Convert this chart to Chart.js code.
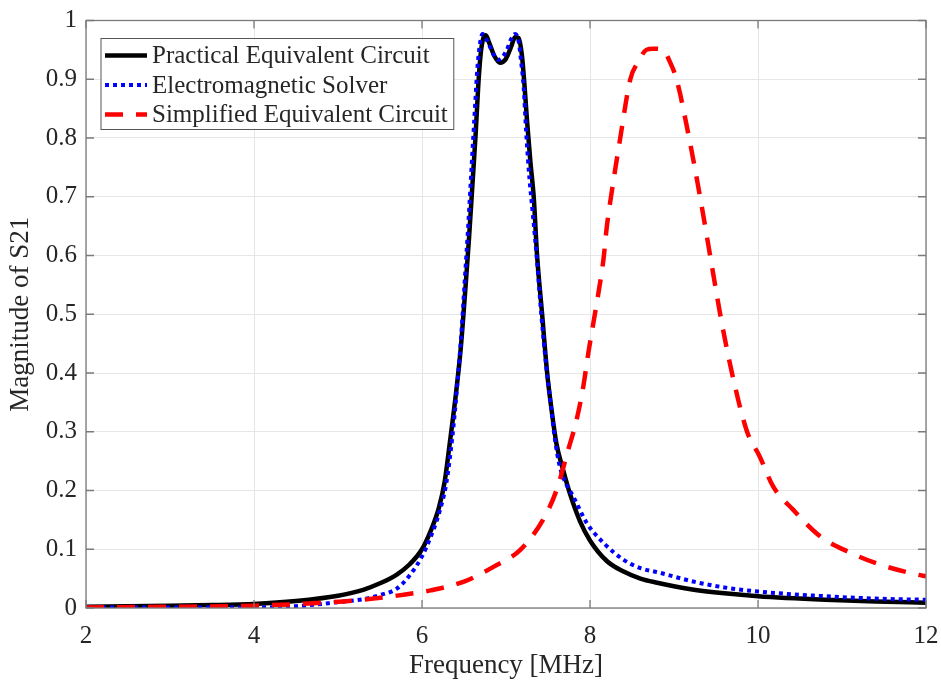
<!DOCTYPE html>
<html>
<head>
<meta charset="utf-8">
<script src="https://cdn.jsdelivr.net/npm/chart.js@4.4.0/dist/chart.umd.min.js"></script>
<style>
  html, body { margin: 0; padding: 0; background: #fff; }
</style>
</head>
<body>
<canvas id="myChart" width="941" height="686"></canvas>
<script>
'use strict';

//********************* Data *************************/

let practicalFreq = [2.0, 2.5, 3.0, 3.5, 4.0, 4.5, 5.0, 5.3, 5.5, 5.7, 5.85, 6.0, 6.1, 6.2, 6.27, 6.33, 6.40, 6.46, 6.52, 6.56, 6.60, 6.64, 6.67, 6.70, 6.73, 6.76, 6.80, 6.86, 6.93, 7.00, 7.06, 7.11, 7.15, 7.19, 7.22, 7.25, 7.29, 7.33, 7.37, 7.43, 7.49, 7.54, 7.60, 7.68, 7.76, 7.88, 8.0, 8.2, 8.4, 8.6, 8.8, 9.2, 9.6, 10.0, 10.8, 11.4, 12.0];
let practicalS21 = [0.002, 0.003, 0.004, 0.005, 0.007, 0.012, 0.021, 0.031, 0.042, 0.057, 0.074, 0.100, 0.130, 0.170, 0.215, 0.28, 0.36, 0.44, 0.55, 0.63, 0.72, 0.81, 0.89, 0.945, 0.97, 0.975, 0.962, 0.940, 0.928, 0.935, 0.955, 0.972, 0.970, 0.940, 0.89, 0.83, 0.76, 0.70, 0.60, 0.50, 0.40, 0.34, 0.28, 0.235, 0.195, 0.148, 0.115, 0.080, 0.062, 0.050, 0.043, 0.032, 0.025, 0.020, 0.014, 0.011, 0.009];

let solverFreq = [2.0, 2.5, 3.0, 3.5, 4.0, 4.5, 5.0, 5.3, 5.5, 5.7, 5.85, 6.0, 6.1, 6.2, 6.29, 6.36, 6.42, 6.47, 6.51, 6.55, 6.59, 6.63, 6.66, 6.69, 6.72, 6.76, 6.81, 6.86, 6.91, 6.96, 7.01, 7.06, 7.11, 7.15, 7.18, 7.21, 7.24, 7.28, 7.32, 7.37, 7.42, 7.48, 7.53, 7.58, 7.64, 7.72, 7.80, 7.96, 8.16, 8.4, 8.6, 8.83, 9.23, 9.6, 10.0, 10.8, 11.4, 12.0];
let solverS21 = [0.001, 0.001, 0.001, 0.001, 0.001, 0.003, 0.010, 0.015, 0.022, 0.033, 0.055, 0.088, 0.12, 0.16, 0.213, 0.29, 0.38, 0.47, 0.56, 0.65, 0.75, 0.85, 0.92, 0.96, 0.977, 0.97, 0.955, 0.94, 0.933, 0.938, 0.95, 0.968, 0.977, 0.965, 0.93, 0.887, 0.81, 0.73, 0.67, 0.59, 0.50, 0.41, 0.35, 0.29, 0.241, 0.21, 0.190, 0.145, 0.111, 0.082, 0.068, 0.060, 0.045, 0.035, 0.028, 0.020, 0.016, 0.014];

let simplifiedFreq = [2.0, 3.0, 4.0, 4.7, 5.3, 5.8, 6.1, 6.5, 6.85, 7.17, 7.44, 7.60, 7.74, 7.84, 7.92, 7.98, 8.04, 8.10, 8.16, 8.20, 8.25, 8.36, 8.48, 8.575, 8.67, 8.75, 8.87, 8.95, 9.03, 9.18, 9.31, 9.43, 9.55, 9.69, 9.87, 10.02, 10.18, 10.42, 10.74, 11.10, 11.45, 11.89, 12.0];
let simplifiedS21 = [0.001, 0.002, 0.004, 0.008, 0.014, 0.023, 0.030, 0.045, 0.070, 0.099, 0.150, 0.20, 0.269, 0.32, 0.377, 0.434, 0.485, 0.536, 0.593, 0.649, 0.70, 0.80, 0.90, 0.93, 0.95, 0.952, 0.95, 0.93, 0.90, 0.80, 0.70, 0.60, 0.50, 0.40, 0.30, 0.258, 0.207, 0.167, 0.122, 0.094, 0.074, 0.057, 0.054];

let seriesNames = ['Practical Equivalent Circuit', 'Electromagnetic Solver', 'Simplified Equivalent Circuit'];
let xTickLabels = [2, 4, 6, 8, 10, 12];
let yTickLabels = [0, 0.1, 0.2, 0.3, 0.4, 0.5, 0.6, 0.7, 0.8, 0.9, 1];

//********************** Helpers ****************************/

const serif = '"Liberation Serif", "Times New Roman", serif';
const textColor = '#262626';

function toPoints(xs, ys) {
  let pts = [];
  for (let i = 0; i < xs.length; i++) {
    pts.push({ x: xs[i], y: ys[i] });
  }
  return pts;
}

// box, inward ticks and legend like the matlab figure
const frameAndLegend = {
  id: 'frameAndLegend',
  afterDraw(chart) {
    const ctx = chart.ctx;
    const a = chart.chartArea;
    const xs = chart.scales.x;
    const ys = chart.scales.y;
    ctx.save();
    ctx.strokeStyle = '#7a7a7a';
    ctx.lineWidth = 1.3;
    ctx.setLineDash([]);
    ctx.strokeRect(a.left, a.top, a.right - a.left, a.bottom - a.top);
    ctx.beginPath();
    xTickLabels.forEach(v => {
      let px = xs.getPixelForValue(v);
      ctx.moveTo(px, a.bottom); ctx.lineTo(px, a.bottom - 8);
      ctx.moveTo(px, a.top); ctx.lineTo(px, a.top + 8);
    });
    yTickLabels.forEach(v => {
      let py = ys.getPixelForValue(v);
      ctx.moveTo(a.left, py); ctx.lineTo(a.left + 8, py);
      ctx.moveTo(a.right, py); ctx.lineTo(a.right - 8, py);
    });
    ctx.stroke();

    // legend
    const lx = a.left + 15;
    const ly = a.top + 18;
    ctx.font = '25px ' + serif;
    let textW = 0;
    chart.data.datasets.forEach(ds => {
      textW = Math.max(textW, ctx.measureText(ds.label).width);
    });
    const w = 51 + textW + 6;
    const h = 91;
    ctx.fillStyle = '#fff';
    ctx.fillRect(lx, ly, w, h);
    ctx.strokeStyle = '#555';
    ctx.lineWidth = 1;
    ctx.strokeRect(lx, ly, w, h);
    chart.data.datasets.forEach((ds, i) => {
      let y = ly + 17 + i * 29.5;
      ctx.beginPath();
      ctx.setLineDash(ds.borderDash || []);
      ctx.strokeStyle = ds.borderColor;
      ctx.lineWidth = ds.borderWidth;
      ctx.moveTo(lx + 4, y);
      ctx.lineTo(lx + 46, y);
      ctx.stroke();
      ctx.setLineDash([]);
      ctx.fillStyle = textColor;
      ctx.textBaseline = 'middle';
      ctx.textAlign = 'left';
      ctx.fillText(ds.label, lx + 51, y + 1);
    });
    ctx.restore();
  }
};

//********************** Chart ****************************/

const ctx = document.getElementById('myChart').getContext('2d');

const myChart = new Chart(ctx, {
  type: 'line',
  data: {
    datasets: [{
      label: seriesNames[0],
      data: toPoints(practicalFreq, practicalS21),
      borderColor: '#000000',
      borderWidth: 4.5,
      order: 3
    },
    {
      label: seriesNames[1],
      data: toPoints(solverFreq, solverS21),
      borderColor: '#0000ff',
      borderWidth: 4,
      borderDash: [4, 4],
      order: 2
    },
    {
      label: seriesNames[2],
      data: toPoints(simplifiedFreq, simplifiedS21),
      borderColor: '#ff0000',
      borderWidth: 4.5,
      borderDash: [18, 13],
      order: 1
    }]
  },
  options: {
    responsive: false,
    animation: false,
    events: [],
    elements: {
      point: { radius: 0 },
      line: { cubicInterpolationMode: 'monotone', borderCapStyle: 'butt' }
    },
    layout: { padding: { top: 20.5, right: 15, left: 0, bottom: 0 } },
    plugins: {
      legend: { display: false },
      tooltip: { enabled: false }
    },
    scales: {
      x: {
        type: 'linear',
        min: 2,
        max: 12,
        afterBuildTicks: (scale) => { scale.ticks = xTickLabels.map(v => ({ value: v })); },
        afterFit: (scale) => { scale.height = 78; scale.paddingLeft = 0; scale.paddingRight = 0; },
        grid: { color: '#e6e6e6', drawTicks: false },
        border: { display: false },
        ticks: { color: textColor, font: { family: serif, size: 25 }, padding: 13, maxRotation: 0, callback: (v) => `${v}` },
        title: { display: true, text: 'Frequency [MHz]', color: textColor, font: { family: serif, size: 27 }, padding: { bottom: 4 } }
      },
      y: {
        min: 0,
        max: 1,
        afterBuildTicks: (scale) => { scale.ticks = yTickLabels.map(v => ({ value: v })); },
        afterFit: (scale) => { scale.width = 86; scale.paddingTop = 0; scale.paddingBottom = 0; },
        grid: { color: '#e6e6e6', drawTicks: false },
        border: { display: false },
        ticks: { color: textColor, font: { family: serif, size: 25 }, padding: 9, callback: (v) => `${v}` },
        title: { display: true, text: 'Magnitude of S21', color: textColor, font: { family: serif, size: 27 }, padding: { top: 5 } }
      }
    }
  },
  plugins: [frameAndLegend]
});
</script>
</body>
</html>
